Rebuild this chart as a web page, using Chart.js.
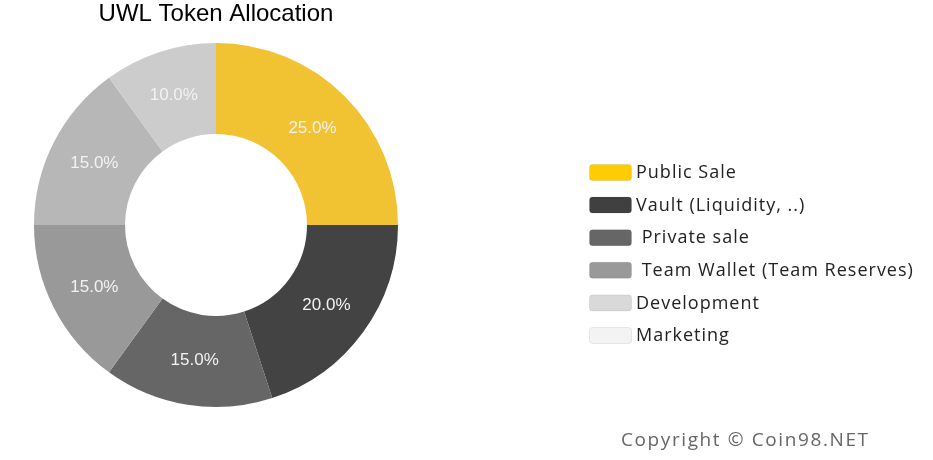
<!DOCTYPE html>
<html>
<head>
<meta charset="utf-8">
<script src="https://cdn.jsdelivr.net/npm/chart.js@4/dist/chart.umd.min.js"></script>
<style>
  html, body { margin: 0; padding: 0; background: #fff; }
  #wrap { width: 933px; height: 460px; position: relative; }
</style>
</head>
<body>
<div id="wrap"><canvas id="tokenChart" width="933" height="460"></canvas></div>
<script>
// data
const labels = ['Public Sale', 'Vault (Liquidity, ..)', ' Private sale', ' Team Wallet (Team Reserves)', 'Development', 'Marketing'];
const shares = [25, 20, 15, 15, 15, 10];
const sliceColors = ['#f1c232', '#434343', '#666666', '#999999', '#b7b7b7', '#cccccc'];
const legendColors = ['#ffcc00', '#404040', '#666666', '#999999', '#d9d9d9', '#f3f3f3'];
const chartTitle = 'UWL Token Allocation';
const footerText = 'Copyright \u00a9 Coin98.NET';

// percent labels on the slices + title, legend, footer
const extrasPlugin = {
    id: 'extras',
    afterDatasetsDraw(chart) {
        const ctx = chart.ctx;
        const meta = chart.getDatasetMeta(0);
        const total = shares.reduce((a, b) => a + b, 0);
        ctx.save();
        ctx.font = '17px "Liberation Sans", Arial, sans-serif';
        ctx.fillStyle = '#f2f2f2';
        ctx.textAlign = 'center';
        ctx.textBaseline = 'middle';
        meta.data.forEach((arc, i) => {
            const p = arc.getCenterPoint();
            ctx.fillText((shares[i] / total * 100).toFixed(1) + '%', p.x, p.y);
        });
        ctx.restore();
    },
    afterDraw(chart) {
        const ctx = chart.ctx;
        const meta = chart.getDatasetMeta(0);
        const cx = meta.data[0].x;
        ctx.save();
        // title
        ctx.font = '24px "Liberation Sans", Arial, sans-serif';
        ctx.fillStyle = '#000';
        ctx.textAlign = 'center';
        ctx.textBaseline = 'middle';
        ctx.fillText(chartTitle, cx, 14);

        // legend
        const boxX = 589, boxW = 42, boxH = 16, top = 172, step = 32.6;
        ctx.textAlign = 'left';
        ctx.font = '18px "Open Sans", sans-serif';
        ctx.letterSpacing = '1px';
        labels.forEach((lab, i) => {
            const y = top + i * step;
            ctx.fillStyle = legendColors[i];
            ctx.strokeStyle = 'rgba(0,0,0,0.08)';
            ctx.lineWidth = 1;
            ctx.beginPath();
            ctx.roundRect(boxX + 0.5, y - boxH / 2 + 0.5, boxW, boxH, 3);
            ctx.fill();
            ctx.stroke();
            ctx.fillStyle = '#222';
            ctx.fillText(lab, 636, y + 1);
        });

        // footer
        ctx.font = '19px "Open Sans", sans-serif';
        ctx.letterSpacing = '1.6px';
        ctx.fillStyle = '#666';
        ctx.fillText(footerText, 621, 441);
        ctx.restore();
    }
};

const ctx = document.getElementById('tokenChart').getContext('2d');
new Chart(ctx, {
    type: 'doughnut',
    data: {
        labels: labels,
        datasets: [{
            data: shares,
            backgroundColor: sliceColors,
            borderColor: '#ffffff',
            borderWidth: 0
        }]
    },
    options: {
        responsive: false,
        animation: false,
        cutout: '50%',
        layout: { padding: { left: 34, right: 535, top: 43, bottom: 53 } },
        plugins: {
            legend: { display: false },
            title: { display: false },
            tooltip: { enabled: false }
        }
    },
    plugins: [extrasPlugin]
});
</script>
</body>
</html>
